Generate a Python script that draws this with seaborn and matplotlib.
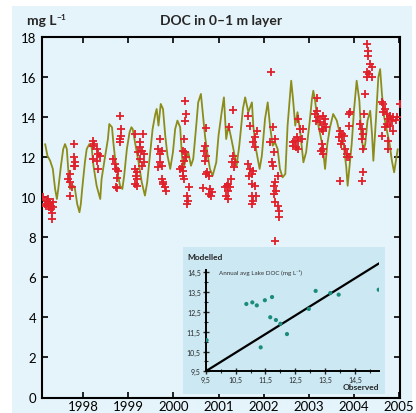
import matplotlib
matplotlib.use("Agg")
import matplotlib.pyplot as plt
from matplotlib.patches import Rectangle
from matplotlib.ticker import FixedLocator, FuncFormatter
import seaborn as sns

# ---- Modelled DOC, 0-1 m layer (decimal year, mg/L) ----
model_year = [
    1997.16, 1997.21, 1997.27, 1997.33, 1997.38, 1997.42, 1997.45, 1997.51, 1997.56, 1997.60,
    1997.64, 1997.67, 1997.71, 1997.79, 1997.82, 1997.87, 1997.92, 1997.95, 1997.98, 1998.04,
    1998.08, 1998.14, 1998.19, 1998.23, 1998.30, 1998.38, 1998.41, 1998.49, 1998.55, 1998.58,
    1998.64, 1998.67, 1998.71, 1998.76, 1998.82, 1998.87, 1998.91, 1998.97, 1999.03, 1999.07,
    1999.10, 1999.15, 1999.23, 1999.30, 1999.37, 1999.42, 1999.48, 1999.54, 1999.60, 1999.63,
    1999.67, 1999.72, 1999.77, 1999.82, 1999.87, 1999.93, 1999.99, 2000.04, 2000.09, 2000.15,
    2000.19, 2000.22, 2000.28, 2000.33, 2000.39, 2000.44, 2000.50, 2000.55, 2000.61, 2000.65,
    2000.70, 2000.75, 2000.81, 2000.87, 2000.95, 2001.00, 2001.07, 2001.12, 2001.17, 2001.22,
    2001.27, 2001.33, 2001.40, 2001.46, 2001.54, 2001.59, 2001.66, 2001.74, 2001.77, 2001.83,
    2001.91, 2001.96, 2002.03, 2002.09, 2002.14, 2002.20, 2002.25, 2002.31, 2002.36, 2002.42,
    2002.48, 2002.53, 2002.59, 2002.61, 2002.65, 2002.70, 2002.75, 2002.81, 2002.88, 2002.94,
    2003.01, 2003.07, 2003.10, 2003.14, 2003.19, 2003.25, 2003.31, 2003.36, 2003.41, 2003.47,
    2003.54, 2003.62, 2003.69, 2003.77, 2003.83, 2003.86, 2003.90, 2003.95, 2004.00, 2004.06,
    2004.12, 2004.16, 2004.21, 2004.25, 2004.30, 2004.36, 2004.40, 2004.43, 2004.49, 2004.54,
    2004.58, 2004.62, 2004.67, 2004.73, 2004.79, 2004.84, 2004.89, 2004.93, 2004.97,
]
model_doc = [
    12.64, 12.06, 11.81, 11.40, 10.40, 9.90, 10.40, 11.56, 12.39, 12.64,
    12.39, 11.40, 10.40, 10.56, 10.40, 9.65, 9.24, 9.65, 10.40, 11.73,
    12.39, 12.64, 12.48, 11.56, 10.56, 9.90, 10.90, 12.06, 12.89, 13.64,
    13.48, 12.73, 11.90, 11.23, 10.56, 10.40, 11.06, 12.39, 13.23, 13.48,
    13.39, 12.73, 11.73, 10.73, 10.07, 10.73, 12.06, 13.39, 14.14, 14.39,
    13.56, 14.64, 14.39, 13.06, 12.06, 11.40, 12.23, 13.39, 13.81, 13.48,
    12.06, 11.40, 11.90, 12.23, 11.56, 11.90, 13.39, 14.72, 15.14, 14.23,
    13.06, 12.23, 11.40, 11.06, 11.73, 13.06, 14.23, 14.97, 12.89, 13.56,
    13.06, 12.39, 11.56, 12.56, 14.39, 14.97, 14.23, 14.72, 13.56, 12.39,
    11.40, 12.06, 13.89, 14.72, 13.56, 12.56, 12.73, 12.39, 11.40, 10.98,
    11.15, 13.56, 15.22, 15.80, 14.89, 13.56, 14.23, 13.23, 11.73, 12.23,
    13.56, 14.89, 15.30, 14.80, 13.81, 13.14, 12.48, 11.40, 12.64, 13.48,
    14.14, 13.81, 13.14, 12.64, 11.48, 10.56, 11.48, 12.64, 14.30, 15.80,
    14.80, 13.14, 12.31, 12.64, 13.81, 14.30, 13.14, 11.81, 13.98, 15.97,
    16.38, 15.14, 13.98, 13.31, 12.64, 11.81, 11.23, 11.81, 12.39,
]

# ---- Observed DOC samples (decimal year, mg/L) ----
obs_year = [
    1997.12, 1997.15, 1997.18, 1997.20, 1997.22, 1997.24, 1997.25, 1997.27, 1997.28, 1997.30,
    1997.31, 1997.31, 1997.33, 1997.34,
    1997.79, 1997.79, 1997.82, 1997.79, 1997.81, 1997.71, 1997.67, 1997.71, 1997.75, 1997.70,
    1998.23, 1998.25, 1998.21, 1998.30, 1998.34, 1998.23, 1998.38, 1998.30, 1998.34,
    1998.82, 1998.83, 1998.84, 1998.82, 1998.81, 1998.67, 1998.71, 1998.74, 1998.78, 1998.75,
    1998.73, 1998.76,
    1999.15, 1999.32, 1999.25, 1999.26, 1999.30, 1999.35, 1999.22, 1999.25, 1999.34, 1999.30,
    1999.15, 1999.19, 1999.17, 1999.20, 1999.15, 1999.19,
    1999.71, 1999.67, 1999.74, 1999.71, 1999.71, 1999.74, 1999.67, 1999.74, 1999.78, 1999.82,
    1999.84, 1999.78,
    2000.26, 2000.28, 2000.26, 2000.24, 2000.21, 2000.26, 2000.28, 2000.24, 2000.19, 2000.22,
    2000.15, 2000.21, 2000.24, 2000.35, 2000.31, 2000.33, 2000.30,
    2000.72, 2000.70, 2000.68, 2000.72, 2000.70, 2000.74, 2000.78, 2000.72, 2000.65, 2000.81,
    2000.85, 2000.80, 2000.83,
    2001.32, 2001.24, 2001.33, 2001.37, 2001.29, 2001.35, 2001.27, 2001.22, 2001.18, 2001.25,
    2001.20, 2001.15, 2001.17, 2001.20,
    2001.66, 2001.70, 2001.85, 2001.81, 2001.77, 2001.81, 2001.66, 2001.70, 2001.74, 2001.68,
    2001.77, 2001.74, 2001.81, 2001.74, 2001.83, 2001.77, 2001.74,
    2002.16, 2002.20, 2002.25, 2002.14, 2002.24, 2002.18, 2002.20, 2002.31, 2002.25, 2002.22,
    2002.27, 2002.22, 2002.25, 2002.31, 2002.35, 2002.33, 2002.25,
    2002.77, 2002.81, 2002.73, 2002.70, 2002.66, 2002.77, 2002.72, 2002.77, 2002.87, 2002.85,
    2002.66,
    2003.19, 2003.18, 2003.14, 2003.21, 2003.16, 2003.25, 2003.32, 2003.36, 2003.34, 2003.29,
    2003.32, 2003.38, 2003.29, 2003.31, 2003.27, 2003.32,
    2003.69, 2003.69, 2003.73, 2003.66, 2003.77, 2003.73, 2003.71, 2003.80, 2003.84, 2003.85,
    2003.90, 2003.88, 2003.92, 2003.88,
    2004.14, 2004.17, 2004.21, 2004.17, 2004.21, 2004.25, 2004.23, 2004.17, 2004.21,
    2004.30, 2004.32, 2004.32, 2004.36, 2004.40, 2004.28, 2004.34, 2004.40, 2004.28,
    2004.62, 2004.65, 2004.69, 2004.65, 2004.73, 2004.76, 2004.80, 2004.84, 2004.87, 2004.93,
    2004.95, 2004.73, 2004.80, 2004.87, 2004.69, 2004.62, 2004.76, 2004.76, 2005.01,
]
obs_doc = [
    9.99, 9.65, 9.57, 9.82, 9.90, 9.74, 9.49, 9.65, 9.40, 9.57,
    9.20, 8.90, 9.74, 9.49,
    12.64, 11.98, 11.73, 11.56, 11.56, 11.15, 10.90, 10.73, 10.48, 10.06,
    12.81, 12.64, 12.56, 12.39, 12.14, 11.90, 12.06, 11.81, 11.40,
    14.06, 13.39, 13.06, 12.89, 12.73, 11.90, 11.65, 11.40, 11.31, 10.93,
    10.48, 10.43,
    13.14, 13.14, 12.73, 12.48, 12.31, 12.14, 12.23, 11.90, 11.73, 11.56,
    11.40, 11.23, 11.06, 10.90, 10.65, 10.56,
    12.89, 12.39, 12.31, 12.14, 11.73, 11.56, 11.48, 10.90, 10.65, 10.48,
    10.31, 10.73,
    14.80, 14.14, 13.81, 12.89, 12.31, 12.23, 11.98, 11.81, 11.48, 11.31,
    11.40, 11.06, 10.90, 10.48, 10.06, 9.82, 9.65,
    13.43, 12.56, 12.31, 12.06, 11.81, 11.23, 11.06, 11.15, 10.43, 10.40,
    10.23, 10.15, 10.06,
    14.35, 13.48, 12.06, 11.73, 11.73, 11.48, 10.90, 10.65, 10.56, 10.48,
    10.31, 10.48, 10.06, 9.90,
    14.06, 13.56, 13.31, 12.98, 12.73, 12.48, 11.65, 11.40, 11.15, 11.06,
    11.31, 10.65, 10.56, 10.06, 10.06, 9.82, 9.65,
    16.22, 13.48, 12.89, 12.73, 12.23, 11.73, 11.56, 11.06, 10.73, 10.56,
    10.31, 10.15, 9.74, 9.57, 9.32, 8.99, 7.82,
    13.89, 13.39, 12.98, 12.81, 12.73, 12.81, 12.48, 12.39, 13.39, 12.89,
    12.56,
    14.94, 14.31, 14.14, 13.98, 13.81, 13.72, 14.06, 13.89, 13.64, 13.39,
    13.31, 13.48, 12.64, 12.39, 12.31, 12.14,
    10.81, 13.31, 13.14, 12.98, 13.06, 12.81, 12.64, 12.39, 12.14, 11.98,
    11.98, 14.14, 14.22, 13.56,
    13.64, 13.39, 13.14, 12.89, 12.39, 15.14, 14.14, 10.81, 11.23,
    17.63, 17.30, 17.05, 16.63, 16.47, 16.22, 16.13, 15.97, 15.97,
    14.72, 14.64, 14.39, 14.22, 14.14, 13.89, 14.06, 13.81, 13.98, 13.84,
    13.98, 13.64, 13.56, 13.31, 13.48, 13.06, 12.81, 12.39, 14.64,
]

# ---- Annual averages (observed vs modelled) ----
annual_obs = [9.53, 10.86, 11.06, 11.21, 11.48, 11.72, 11.66, 11.85, 12.00, 11.34,
              12.22, 12.95, 13.18, 13.67, 13.95, 15.29]
annual_mod = [11.07, 12.90, 12.98, 12.83, 13.09, 13.25, 12.23, 12.09, 11.90, 10.71,
              11.38, 12.65, 13.56, 13.45, 13.37, 13.62]
ref_line_x = [9.5, 15.3]
ref_line_y = [9.5, 14.95]

main_xticks = [1998, 1999, 2000, 2001, 2002, 2003, 2004, 2005]
main_yticks = [0, 2, 4, 6, 8, 10, 12, 14, 16, 18]
inset_ticks = [9.5, 10.5, 11.5, 12.5, 13.5, 14.5]

PANEL = "#e5f4fa"
INSET_BG = "#cbe8f3"
LINE_C = "#8c8c1a"
OBS_C = "#e0202b"
DOT_C = "#1b8c7c"

sns.set_style("ticks")
plt.rcParams["font.family"] = ["Lato", "DejaVu Sans"]

W, H = 416, 414
fig = plt.figure(figsize=(W / 100, H / 100), dpi=100)
fig.patch.set_facecolor("white")
fig.patches.append(Rectangle((12 / W, 0), (412 - 12) / W, (414 - 7) / H,
                             transform=fig.transFigure, facecolor=PANEL,
                             edgecolor="none", zorder=-10))

# ---- main time-series axes ----
ax = fig.add_axes([42 / W, 1 - 398.5 / H, (400 - 42) / W, (398.5 - 37.6) / H],
                  zorder=1)
ax.set_facecolor("none")
sns.lineplot(x=model_year, y=model_doc, ax=ax, color=LINE_C, lw=1.3,
             estimator=None, sort=False, zorder=2)
sns.scatterplot(x=obs_year, y=obs_doc, ax=ax, marker="+", s=32, color=OBS_C,
                linewidth=1.3, zorder=3)
ax.set_xlim(1997.09, 2005.02)
ax.set_ylim(0, 18)
ax.set_xticks(main_xticks)
ax.set_yticks(main_yticks)
ax.tick_params(direction="in", length=4, width=1.2, top=True, right=True,
               labelsize=9.5, colors="black")
ax.tick_params(axis="x", pad=1.5)
ax.tick_params(axis="y", pad=4)
for s in ax.spines.values():
    s.set_linewidth(1.5)
    s.set_color("black")

fig.text(221 / W, 1 - 21 / H, "DOC in 0–1 m layer", ha="center", va="center",
         fontsize=10, fontweight="bold")
fig.text(27 / W, 1 - 21 / H, "mg L", ha="left", va="center",
         fontsize=10, fontweight="bold")
fig.text(56 / W, 1 - 17 / H, "−1", ha="left", va="center",
         fontsize=6, fontweight="bold")

# ---- inset: annual averages ----
fig.patches.append(Rectangle((183 / W, 1 - 395 / H), (385 - 183) / W, (395 - 248) / H,
                             transform=fig.transFigure, facecolor=INSET_BG,
                             edgecolor="none", zorder=5))
ax2 = fig.add_axes([205.7 / W, 1 - 372.3 / H, (379 - 205.7) / W, (372.3 - 263.4) / H],
                   zorder=6)
ax2.set_facecolor("none")
sns.lineplot(x=ref_line_x, y=ref_line_y, ax=ax2, color="black", lw=1.6,
             estimator=None, sort=False)
sns.scatterplot(x=annual_obs, y=annual_mod, ax=ax2, color=DOT_C, s=9,
                edgecolor="none", zorder=4)
ax2.set_xlim(9.5, 15.3)
ax2.set_ylim(9.5, 15.0)
ax2.set_xticks(inset_ticks)
ax2.set_yticks(inset_ticks)
ax2.xaxis.set_minor_locator(FixedLocator([10, 11, 12, 13, 14, 15]))
ax2.yaxis.set_minor_locator(FixedLocator([10, 11, 12, 13, 14]))
comma = FuncFormatter(lambda v, p: f"{v:.1f}".replace(".", ","))
ax2.xaxis.set_major_formatter(comma)
ax2.yaxis.set_major_formatter(comma)
ax2.tick_params(which="major", direction="inout", length=4, width=1.0,
                labelsize=5, pad=1.5)
ax2.tick_params(which="minor", direction="inout", length=2.5, width=0.8)
for side in ("top", "right"):
    ax2.spines[side].set_visible(False)
ax2.spines["left"].set_bounds(9.5, 14.6)
for side in ("left", "bottom"):
    ax2.spines[side].set_linewidth(1.4)
    ax2.spines[side].set_color("black")

fig.text(187 / W, 1 - 258 / H, "Modelled", ha="left", va="center",
         fontsize=6, fontweight="bold", zorder=7)
fig.text(379 / W, 1 - 388 / H, "Observed", ha="right", va="center",
         fontsize=6, fontweight="bold", zorder=7)
fig.text(219 / W, 1 - 272.5 / H, "Annual avg Lake DOC (mg L⁻¹)", ha="left",
         va="center", fontsize=4.5, color="#333333", zorder=7)

fig.savefig("out.png", dpi=100)
